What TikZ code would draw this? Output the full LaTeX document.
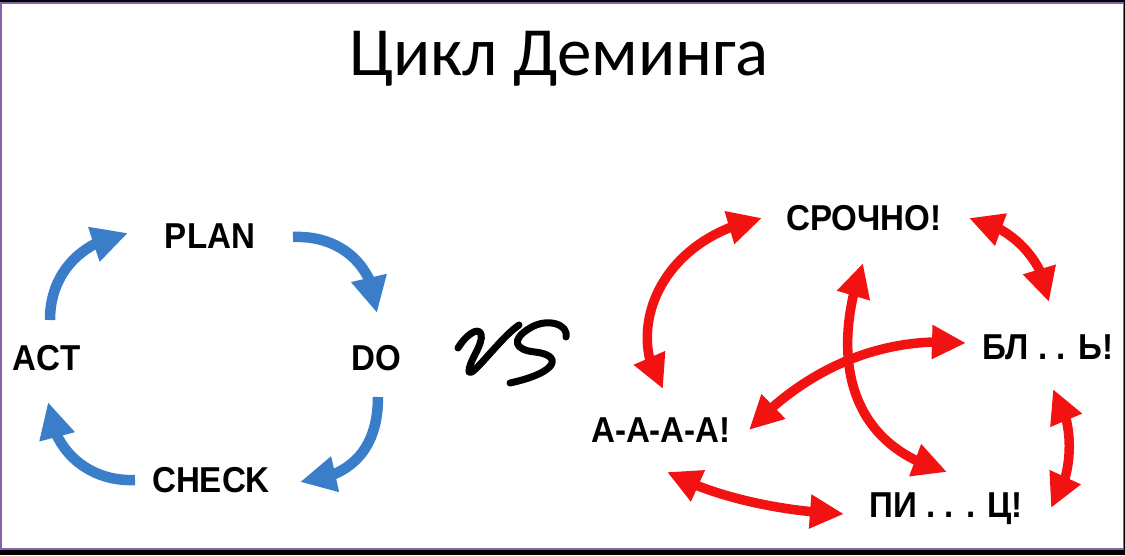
\documentclass[tikz,border=0pt]{standalone}
\usepackage{fontspec}
\setmainfont{Liberation Sans}
\newfontfamily\titlefont{Carlito}
\newfontfamily\lblfont{Liberation Sans}[FakeStretch=0.92]
\usetikzlibrary{arrows.meta,bending}
\definecolor{arrowblue}{RGB}{58,125,200}
\definecolor{arrowred}{RGB}{242,18,18}
\definecolor{framepurple}{RGB}{130,100,170}
\begin{document}
\begin{tikzpicture}[x=1pt,y=-1pt,
  lbl/.style={font=\lblfont\bfseries\fontsize{36}{36}\selectfont, anchor=base, inner sep=0pt},
  bluearr/.style={draw=arrowblue, line width=10.5pt, -{Triangle[length=36pt,width=34pt,flex]}},
  redarr/.style={draw=arrowred, line width=9.5pt, {Triangle[length=34pt,width=32pt,flex]}-{Triangle[length=34pt,width=32pt,flex]}},
  vsline/.style={draw=black, line width=7pt, line cap=round, line join=round}
]
\useasboundingbox (0,0) rectangle (1125,555);
\fill[black] (0,0) rectangle (1125,555);
\filldraw[fill=white, draw=framepurple, line width=1.5pt] (0.75,3) rectangle (1123.5,549);

\node[anchor=base, font=\titlefont\fontsize{69}{69}\selectfont, inner sep=0pt] (title) at (559,75) {Цикл Деминга};

% left cycle
\node[lbl] (plan) at (210,248) {PLAN};
\node[lbl] (act) at (47,370) {ACT};
\node[lbl] (do) at (376,370) {DO};
\node[lbl] (check) at (211,492) {CHECK};

\coordinate (a1s) at (50,320);  \coordinate (a1e) at (128,233);
\coordinate (a2s) at (293,237); \coordinate (a2e) at (377,313);
\coordinate (a3s) at (378,397); \coordinate (a3e) at (300,482);
\coordinate (a4s) at (135,480); \coordinate (a4e) at (48,402);

\draw[bluearr] (a1s) .. controls (50,270) and (85,240) .. (a1e);
\draw[bluearr] (a2s) .. controls (340,235) and (375,265) .. (a2e);
\draw[bluearr] (a3s) .. controls (378,450) and (350,478) .. (a3e);
\draw[bluearr] (a4s) .. controls (90,482) and (52,452) .. (a4e);

% vs
\draw[vsline] (458,348) .. controls (465,336) and (478,326) .. (481,334)
  .. controls (484,344) and (468,362) .. (469,372)
  .. controls (472,378) and (500,338) .. (519,325);
\draw[vsline] (566,337) .. controls (569,325) and (548,317) .. (530,328)
  .. controls (510,340) and (515,350) .. (535,352)
  .. controls (562,355) and (560,372) .. (510,383);

% right chaos
\node[lbl] (srochno) at (864,230) {СРОЧНО!};
\node[lbl] (bl) at (1048,359) {БЛ . . Ь!};
\node[lbl] (aaaa) at (661,442) {А-А-А-А!};
\node[lbl] (pi) at (946,517) {ПИ . . . Ц!};

\coordinate (r1a) at (762,218); \coordinate (r1b) at (663,389);
\coordinate (r2a) at (969,218); \coordinate (r2b) at (1049,302);
\coordinate (r3a) at (1053,389); \coordinate (r3b) at (1051,508);
\coordinate (r4a) at (667,472); \coordinate (r4b) at (844,514);
\coordinate (r5a) at (863,263); \coordinate (r5b) at (947,472);
\coordinate (r6a) at (749,430); \coordinate (r6b) at (966,343);

\draw[redarr] (r1a) .. controls (655,240) and (625,335) .. (r1b);
\draw[redarr] (r2a) .. controls (1010,225) and (1045,260) .. (r2b);
\draw[redarr] (r3a) .. controls (1075,420) and (1075,475) .. (r3b);
\draw[redarr] (r4a) .. controls (720,500) and (790,512) .. (r4b);
\draw[redarr] (r5a) .. controls (838,330) and (830,440) .. (r5b);
\draw[redarr] (r6a) .. controls (805,370) and (880,335) .. (r6b);
\end{tikzpicture}
\end{document}
